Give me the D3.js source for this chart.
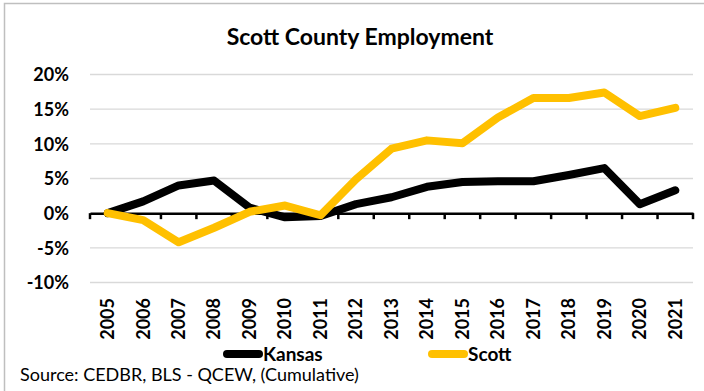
<!DOCTYPE html>
<html><head><meta charset="utf-8">
<script src="https://cdn.jsdelivr.net/npm/d3@7"></script>
<style>
html,body{margin:0;padding:0;background:#fff;}
svg{display:block;font-family:Lato,"Open Sans",sans-serif;}
</style></head>
<body><svg id="c" width="704" height="391"></svg>
<script>
const years = ["2005","2006","2007","2008","2009","2010","2011","2012","2013","2014","2015","2016","2017","2018","2019","2020","2021"];
const kansas = [0.0,1.7,4.0,4.7,0.8,-0.6,-0.4,1.3,2.3,3.8,4.5,4.6,4.6,5.5,6.5,1.3,3.3];
const scott = [0.0,-1.0,-4.2,-2.1,0.2,1.1,-0.3,4.9,9.3,10.5,10.1,13.8,16.6,16.6,17.4,14.0,15.2];
const yTicks = [-10,-5,0,5,10,15,20];
const title = "Scott County Employment";
const source = "Source: CEDBR, BLS - QCEW, (Cumulative)";
const seriesNames = ["Kansas","Scott"];
const colors = ["#000000","#FFC000"];

const svg = d3.select("#c");
// frame
svg.append("rect").attr("x",4.5).attr("y",3.5).attr("width",720).attr("height",400)
  .attr("fill","#fff").attr("stroke","#bfbfbf").attr("stroke-width",1.5);

const x = d3.scaleBand().domain(years).range([90,693]);
const y = d3.scaleLinear().domain([-10,20]).range([282.5,74.5]);

// gridlines
svg.append("g").selectAll("line").data(yTicks.filter(d=>d!==0)).join("line")
  .attr("x1",90).attr("x2",693).attr("y1",d=>y(d)).attr("y2",d=>y(d))
  .attr("stroke","#d9d9d9").attr("stroke-width",1.3);

// y axis labels
const yAxis = d3.axisLeft(y).tickValues(yTicks).tickFormat(d=>d+"%").tickSize(0).tickPadding(0);
const gy = svg.append("g").attr("transform","translate(69,0)").call(yAxis);
gy.select(".domain").remove();
gy.selectAll("text").attr("font-size",18).attr("font-weight","bold").attr("fill","#000")
  .attr("font-family","Lato").attr("dy","0.35em");

// x axis at zero
const xAxis = d3.axisBottom(x).tickSize(0).tickPadding(0);
const gx = svg.append("g").attr("transform",`translate(0,${y(0)})`).call(xAxis);
gx.select(".domain").attr("stroke","#000").attr("stroke-width",2.5);
// boundary ticks
const bounds = years.map(d=>x(d)).concat([x(years[years.length-1])+x.bandwidth()]);
gx.append("g").selectAll("line").data(bounds).join("line")
  .attr("x1",d=>d).attr("x2",d=>d).attr("y1",0).attr("y2",6)
  .attr("stroke","#000").attr("stroke-width",2.5);
gx.selectAll(".tick text").remove();

// x labels rotated
svg.append("g").selectAll("text").data(years).join("text")
  .attr("transform",d=>`translate(${x(d)+x.bandwidth()/2},298) rotate(-90)`)
  .attr("text-anchor","end").attr("dy","0.35em")
  .attr("font-size",18).attr("font-weight","bold").attr("fill","#000")
  .text(d=>d);

// lines
const line = d3.line().x((d,i)=>x(years[i])+x.bandwidth()/2).y(d=>y(d));
[kansas,scott].forEach((s,k)=>{
  svg.append("path").datum(s).attr("d",line).attr("fill","none")
    .attr("stroke",colors[k]).attr("stroke-width",8)
    .attr("stroke-linejoin","round").attr("stroke-linecap","round");
});

// title
svg.append("text").attr("x",360).attr("y",45).attr("text-anchor","middle")
  .attr("font-size",23).attr("font-weight","bold").attr("fill","#000").text(title);

// legend
const legX = [223,428];
seriesNames.forEach((n,k)=>{
  svg.append("line").attr("x1",legX[k]+4).attr("x2",legX[k]+36).attr("y1",354).attr("y2",354)
    .attr("stroke",colors[k]).attr("stroke-width",8).attr("stroke-linecap","round");
  svg.append("text").attr("x",legX[k]+40).attr("y",354).attr("dy","0.35em")
    .attr("font-size",19).attr("font-weight","bold").attr("fill","#000").text(n);
});

// source
svg.append("text").attr("x",20).attr("y",375).attr("dy","0.35em")
  .attr("font-size",18).attr("fill","#000").text(source);
</script></body></html>
